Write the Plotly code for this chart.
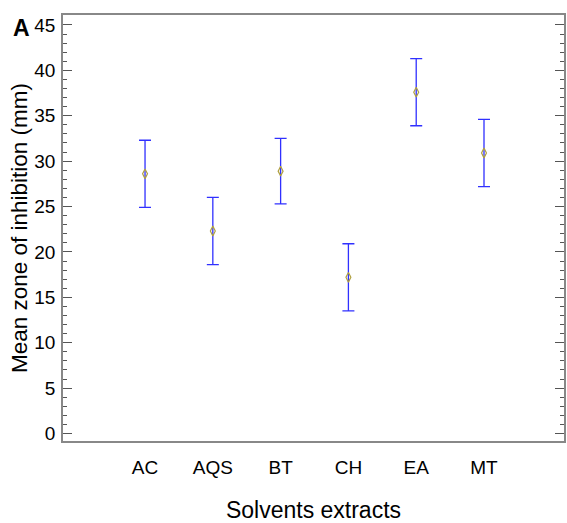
import plotly.graph_objects as go

categories = ["AC", "AQS", "BT", "CH", "EA", "MT"]
means = [28.6, 22.3, 28.9, 17.2, 37.6, 30.9]
errors = [3.7, 3.7, 3.6, 3.7, 3.7, 3.7]
y_ticks = [0, 5, 10, 15, 20, 25, 30, 35, 40, 45]

xpos = list(range(len(categories)))

fig = go.Figure()
fig.add_trace(go.Scatter(
    x=xpos, y=means, mode="markers",
    marker=dict(symbol="diamond-tall-open", size=7, color="#b0a040", line=dict(width=1.2, color="#b0a040")),
    error_y=dict(type="data", array=errors, visible=True, color="#3030ff", thickness=1.3, width=6),
    showlegend=False,
))

font = "Liberation Sans, Arial, sans-serif"
L, R, T, B = 63, 564, 15, 441
fig.update_layout(
    width=567, height=523,
    margin=dict(l=L, r=567 - R, t=T, b=523 - B),
    paper_bgcolor="white", plot_bgcolor="white",
    font=dict(family=font, color="black"),
    xaxis=dict(
        range=[-1.21, 6.18], tickvals=xpos, ticktext=categories,
        showgrid=False, zeroline=False, ticks="", automargin=False,
        showline=True, linecolor="#888888", linewidth=1.5, mirror=True,
        tickfont=dict(size=19), ticklabelstandoff=8,
        title=dict(text="Solvents extracts", font=dict(size=23), standoff=26),
    ),
    yaxis=dict(
        range=[-0.83, 46.1], tickvals=y_ticks, automargin=False,
        showgrid=False, zeroline=False,
        ticks="inside", ticklen=9, tickcolor="#555555", tickwidth=1.2,
        minor=dict(dtick=1, ticks="inside", ticklen=4, tickcolor="#555555", tickwidth=1),
        showline=True, linecolor="#888888", linewidth=1.5, mirror="ticks",
        tickfont=dict(size=19), ticklabelstandoff=2,
        title=dict(text="Mean zone of inhibition (mm)", font=dict(size=22.5), standoff=0),
    ),
    annotations=[dict(text="<b>A</b>", xref="paper", yref="paper",
                      x=(21 - L) / (R - L), y=(B - 28) / (B - T),
                      xanchor="center", yanchor="middle",
                      showarrow=False, font=dict(size=23, family=font))],
)
fig.write_html("out.html", config={"displayModeBar": False},
               post_script="document.body.style.margin='0';")
